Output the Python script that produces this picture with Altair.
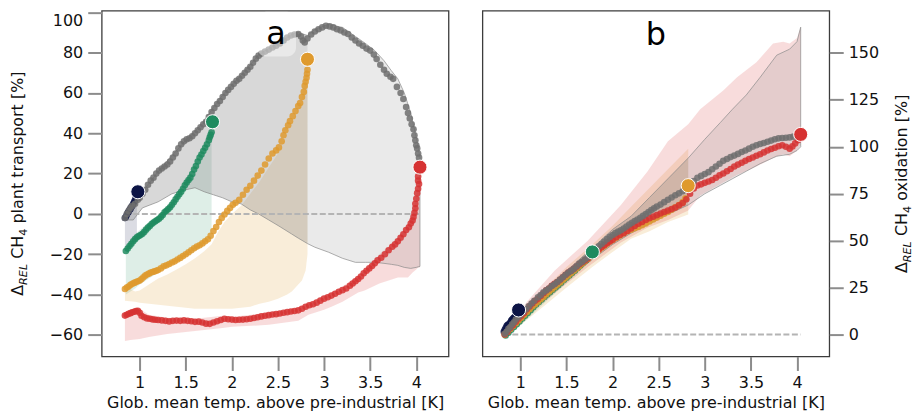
import altair as alt
import pandas as pd

FONT = "DejaVu Sans"
NAVY, GREEN, YELLOW, RED, GREY = "#0c1445", "#1f8b5f", "#df9a2e", "#d63232", "#6e6e6e"
BAND_GREY = "#7f7f7f"

# ---------------- panel a : plant transport ----------------
GRAY_A = [(0.84,-2),(0.86,0),(0.88,1.5),(0.90,3),(0.92,4),(0.95,5),(0.98,7),(1.00,8),(1.03,10),(1.06,12),
          (1.09,14.5),(1.12,16.5),(1.15,18),(1.18,20),(1.21,21.5),(1.24,22.5),(1.27,23.5),(1.30,24.5),(1.33,26),(1.36,28),
          (1.39,30),(1.42,32.5),(1.45,34.5),(1.48,36),(1.51,37),(1.54,37.5),(1.57,38.5),(1.60,40),(1.63,41.5),(1.66,43),
          (1.69,44.5),(1.72,45.7),(1.75,48),(1.78,50.5),(1.81,52.5),(1.84,54.5),(1.87,56),(1.90,58),(1.93,60),(1.96,61.5),
          (1.99,63),(2.02,64.5),(2.05,66),(2.08,67),(2.11,68.5),(2.14,70),(2.17,71.5),(2.20,73),(2.23,75),(2.26,77),
          (2.29,78.5),(2.32,79.5),(2.36,80.5),(2.40,81.5),(2.44,82.5),(2.48,83.4),(2.52,84.5),(2.56,86),(2.60,87.5),(2.64,88.5),
          (2.68,89),(2.72,89.2),(2.75,88),(2.77,86),(2.79,85),(2.82,87),(2.86,89),(2.90,90.5),(2.94,91.6),(2.98,92.5),
          (3.02,93.3),(3.06,93),(3.10,92.5),(3.14,91.6),(3.18,91),(3.22,90),(3.26,89.2),(3.30,87.5),(3.34,86),(3.38,84.5),
          (3.42,83.4),(3.46,82),(3.50,81),(3.54,79),(3.57,76.8),(3.61,74),(3.65,71.5),(3.68,69.5),(3.72,68),(3.75,67),
          (3.79,63),(3.83,60),(3.86,57),(3.89,53),(3.91,50),(3.93,47.3),(3.95,44.5),(3.97,42),(3.98,39),(3.99,36.5),
          (4.00,34),(4.01,32.5),(4.02,30),(4.03,27.9)]
NAVY_A = [(0.84,-2),(0.85,-1.5),(0.86,-0.5),(0.87,0.5),(0.88,1),(0.89,2),(0.90,2.5),(0.91,3.5),(0.92,4),
          (0.93,5),(0.94,6),(0.95,7),(0.96,8.5)]
GREEN_A = [(0.85,-18.4),(0.87,-17.2),(0.89,-15.9),(0.91,-14.8),(0.93,-13.6),(0.95,-12.5),(0.97,-11.6),(0.99,-11.0),
           (1.01,-10.5),(1.03,-9.8),(1.05,-8.9),(1.07,-7.8),(1.09,-6.8),(1.11,-6.0),(1.13,-5.0),(1.15,-4.3),(1.17,-3.6),
           (1.19,-3.0),(1.21,-2.4),(1.23,-1.5),(1.25,-0.5),(1.27,0.8),(1.29,1.6),(1.31,2.4),(1.33,3.3),(1.35,4.5),
           (1.37,5.8),(1.39,7.2),(1.41,8.5),(1.43,9.8),(1.45,11.0),(1.47,12.5),(1.49,14.2),(1.51,15.6),(1.53,16.8),
           (1.55,18.0),(1.57,19.8),(1.59,22.0),(1.61,23.8),(1.63,26.0),(1.65,28.0),(1.67,29.5),(1.69,31.2),(1.71,32.8),
           (1.73,34.5),(1.75,36.5),(1.76,38.0),(1.77,39.2),(1.78,40.5)]
YELLOW_A = [(0.84,-37.2),(0.86,-36.5),(0.88,-36.0),(0.90,-35.2),(0.92,-34.6),(0.94,-34.2),(0.96,-33.8),(0.98,-33.4),
            (1.00,-33.0),(1.02,-32.3),(1.04,-31.4),(1.06,-30.6),(1.08,-30.0),(1.10,-29.6),(1.12,-29.1),(1.14,-28.8),
            (1.16,-28.5),(1.18,-28.2),(1.20,-27.8),(1.23,-27.0),(1.26,-26.0),(1.29,-25.5),(1.32,-24.8),(1.35,-24.1),
            (1.38,-23.5),(1.41,-22.6),(1.44,-21.8),(1.47,-20.9),(1.50,-20.0),(1.53,-19.0),(1.56,-18.0),(1.59,-17.0),
            (1.62,-16.2),(1.65,-15.5),(1.68,-14.6),(1.71,-13.6),(1.74,-12.6),(1.77,-10.8),(1.80,-8.5),(1.83,-6.5),
            (1.86,-4.0),(1.89,-2.0),(1.92,-0.3),(1.95,1.5),(1.98,3.0),(2.01,4.5),(2.04,5.5),(2.08,7.0),(2.12,9.5),
            (2.16,12.0),(2.20,14.0),(2.24,16.5),(2.28,19.0),(2.32,21.5),(2.36,24.5),(2.40,27.5),(2.44,30.0),(2.48,31.5),
            (2.51,33.0),(2.54,36.0),(2.56,39.0),(2.58,41.5),(2.61,44.0),(2.63,46.0),(2.66,48.5),(2.69,51.0),(2.72,53.5),
            (2.74,55.0),(2.76,58.0),(2.78,60.5),(2.79,63.5),(2.80,65.5),(2.81,67.5),(2.815,69.5),(2.82,71.5)]
RED_A = [(0.84,-50.4),(0.86,-50.0),(0.88,-49.5),(0.90,-49.2),(0.92,-48.8),(0.94,-48.5),(0.96,-48.2),(0.98,-48.0),
         (1.00,-49.0),(1.02,-50.5),(1.05,-51.2),(1.08,-51.8),(1.11,-52.0),(1.14,-52.3),(1.17,-52.5),(1.20,-52.6),
         (1.24,-52.8),(1.28,-53.0),(1.32,-53.3),(1.36,-53.0),(1.40,-52.9),(1.44,-53.0),(1.48,-52.8),(1.52,-53.0),
         (1.56,-53.2),(1.60,-53.5),(1.64,-53.4),(1.68,-53.8),(1.72,-54.4),(1.76,-54.5),(1.80,-53.8),(1.84,-53.2),
         (1.88,-52.6),(1.92,-52.0),(1.96,-52.2),(2.00,-52.4),(2.04,-52.6),(2.08,-52.5),(2.12,-52.4),(2.16,-52.2),
         (2.20,-52.0),(2.24,-51.6),(2.28,-51.2),(2.32,-50.8),(2.36,-50.5),(2.40,-50.2),(2.44,-49.9),(2.48,-49.7),
         (2.52,-49.4),(2.56,-49.0),(2.60,-48.7),(2.64,-48.4),(2.68,-48.1),(2.72,-47.8),(2.76,-47.0),(2.80,-46.0),
         (2.84,-45.3),(2.88,-44.8),(2.92,-44.0),(2.96,-43.0),(3.00,-42.0),(3.04,-41.3),(3.08,-40.5),(3.12,-39.6),
         (3.16,-38.6),(3.20,-37.8),(3.24,-37.0),(3.28,-35.6),(3.31,-34.5),(3.34,-33.4),(3.37,-32.3),(3.40,-31.0),
         (3.43,-29.4),(3.46,-28.2),(3.49,-27.0),(3.52,-25.8),(3.55,-24.5),(3.58,-23.0),(3.62,-21.7),(3.66,-20.0),
         (3.70,-18.0),(3.74,-16.3),(3.77,-15.1),(3.80,-13.6),(3.83,-11.8),(3.86,-10.1),(3.89,-8.0),(3.92,-6.6),
         (3.94,-4.8),(3.96,-3.3),(3.97,-1.5),(3.98,0.5),(3.99,2.8),(3.99,5.0),(4.00,7.5),(4.01,10.3),(4.02,12.5),
         (4.03,14.8),(4.02,16.5),(4.02,18.6)]
END_NAVY_A, END_GREEN_A, END_YELLOW_A, END_RED_A = (0.98, 11.0), (1.79, 45.7), (2.82, 76.7), (4.04, 23.2)

# bands: (x, lower, upper)
GRAY_BAND_A = [(0.84,-3,-1),(0.93,-3,5),(1.03,3,11),(1.2,6,21),(1.35,10,29),(1.5,12,36.5),(1.6,13,41),(1.7,11,46),
               (1.8,9.5,53),(1.9,8,59),(2.0,6,64),(2.1,5,69),(2.2,2,74),(2.29,0,79),(2.4,-3,82),(2.51,-6,85),
               (2.65,-10,89),(2.72,-12,90),(2.82,-14.7,88.5),(2.9,-16.5,91.5),(3.05,-19,94),(3.2,-22,92.5),
               (3.34,-24,88),(3.45,-24,84.5),(3.55,-24,81),(3.65,-24.5,76),(3.73,-25,71),(3.8,-25.5,67),
               (3.87,-26.5,60),(3.94,-27,50),(4.0,-26.5,38),(4.04,-26,28)]
NAVY_BAND_A = [(0.84,-18,-1),(0.9,-14,4),(0.97,-10,10)]
GREEN_BAND_A = [(0.85,-40,-16),(0.95,-37,-10),(1.0,-35,-8),(1.1,-32,-4),(1.2,-29,-1),(1.28,-27,3),(1.4,-24,9),
                (1.5,-21.5,17),(1.6,-18.5,24),(1.65,-17,30),(1.7,-15,34),(1.75,-13,38.5),(1.78,-12,42)]
TAN_BAND_A = [(0.84,-43,-36),(0.95,-43.5,-38.5),(1.0,-44,-38),(1.1,-44.5,-35),(1.2,-45,-32),(1.3,-45.5,-30),
              (1.4,-46,-27.5),(1.5,-46.5,-25),(1.6,-47,-22),(1.7,-47,-18.5),(1.78,-47,-15),(1.85,-47,-9),
              (1.92,-47,-4),(2.0,-47,0),(2.1,-46.5,4),(2.2,-46,10),(2.3,-44.5,16),(2.4,-43.5,23),(2.5,-42,30),
              (2.6,-40,40),(2.65,-38.5,45),(2.7,-36,50),(2.76,-33,58),(2.8,-28,68),(2.82,-20,76.7)]
RED_BAND_A = [(0.84,-63,-49),(0.9,-62.5,-47.5),(1.0,-62,-47),(1.1,-61,-50),(1.3,-59.5,-51.5),(1.6,-58,-52),
              (1.9,-56.5,-50.5),(2.0,-56,-51),(2.4,-55,-49),(2.72,-53,-46.5),(2.83,-50,-44),(3.0,-47.5,-40.5),
              (3.08,-46,-39),(3.2,-43.5,-36),(3.37,-39,-30.5),(3.44,-38,-28),(3.6,-34.5,-20),(3.8,-31.5,-12),
              (3.91,-31.5,-5),(3.96,-29,0),(4.0,-27.5,8),(4.02,-26.6,16),(4.04,-26.5,23)]

# ---------------- panel b : oxidation ----------------
GRAY_B = [(0.83,0.4),(0.85,1.5),(0.87,3.0),(0.89,4.0),(0.91,5.5),(0.93,6.5),(0.95,8.0),(0.975,9.2),(1.00,10.5),
          (1.03,12.0),(1.06,13.5),(1.09,15.0),(1.12,16.5),(1.15,18.0),(1.19,19.8),(1.22,21.0),(1.25,22.5),(1.28,23.5),
          (1.31,24.5),(1.34,25.8),(1.37,26.8),(1.40,28.0),(1.43,29.3),(1.46,30.5),(1.49,31.8),(1.52,33.0),(1.55,33.9),
          (1.58,35.0),(1.61,36.4),(1.64,37.8),(1.67,38.8),(1.70,40.0),(1.73,41.0),(1.76,42.5),(1.79,44.0),(1.82,45.5),
          (1.85,47.0),(1.88,48.2),(1.91,49.5),(1.94,50.8),(1.97,52.0),(2.00,53.0),(2.03,54.0),(2.06,54.8),(2.09,55.5),
          (2.12,56.5),(2.15,57.5),(2.18,58.6),(2.21,59.5),(2.24,60.5),(2.27,61.3),(2.30,62.2),(2.33,63.2),(2.36,64.2),
          (2.39,65.3),(2.42,66.3),(2.45,67.2),(2.48,68.2),(2.52,69.2),(2.56,70.5),(2.60,71.8),(2.64,73.0),(2.68,74.2),
          (2.72,75.2),(2.76,76.3),(2.80,77.8),(2.84,79.5),(2.88,81.8),(2.92,83.5),(2.96,84.5),(3.00,85.5),(3.04,86.5),
          (3.08,88.0),(3.12,89.5),(3.16,91.0),(3.20,92.5),(3.24,93.5),(3.28,94.5),(3.32,95.3),(3.36,96.2),(3.40,97.2),
          (3.44,98.0),(3.48,99.0),(3.52,100.0),(3.56,100.8),(3.60,101.5),(3.64,102.0),(3.68,102.7),(3.72,103.3),
          (3.76,104.0),(3.80,104.5),(3.84,104.7),(3.88,104.8),(3.92,105.0),(3.96,105.4),(4.00,105.8)]
NAVY_B = [(0.82,1.5),(0.83,2.5),(0.84,3.5),(0.85,4.5),(0.86,5.0),(0.87,5.5),(0.88,5.5),(0.89,6.5),(0.90,7.5),
          (0.91,8.0),(0.92,8.5),(0.93,9.0),(0.94,9.5),(0.95,10.0),(0.96,10.5)]
GREEN_B = [(0.84,-0.5),(0.87,1.0),(0.90,2.5),(0.93,4.0),(0.96,5.5),(0.99,7.0),(1.02,8.5),(1.05,10.0),(1.08,11.5),
           (1.11,13.0),(1.14,14.5),(1.17,16.0),(1.20,17.3),(1.23,18.7),(1.26,20.0),(1.29,21.3),(1.32,22.5),(1.35,23.8),
           (1.38,25.0),(1.41,26.3),(1.44,27.6),(1.47,29.0),(1.50,30.2),(1.53,31.5),(1.56,32.8),(1.59,34.0),(1.62,35.5),
           (1.65,36.8),(1.68,38.2),(1.71,39.5),(1.74,41.0),(1.77,42.5)]
YELLOW_B = [(0.83,0.0),(0.86,1.5),(0.89,3.0),(0.92,4.5),(0.95,6.0),(0.98,7.5),(1.01,9.0),(1.04,10.5),(1.07,12.0),
            (1.10,13.5),(1.13,15.0),(1.16,16.2),(1.19,17.5),(1.22,18.8),(1.25,20.0),(1.28,21.5),(1.31,22.8),(1.34,24.0),
            (1.37,25.2),(1.40,26.5),(1.43,27.7),(1.46,29.0),(1.49,30.2),(1.52,31.5),(1.55,32.8),(1.58,34.0),(1.61,35.2),
            (1.64,36.5),(1.67,37.8),(1.70,39.0),(1.73,40.2),(1.76,41.5),(1.79,42.8),(1.82,44.0),(1.85,45.0),(1.88,46.2),
            (1.91,47.2),(1.94,48.3),(1.97,49.5),(2.00,50.3),(2.04,51.5),(2.08,52.7),(2.12,54.0),(2.16,55.0),(2.20,55.8),
            (2.24,56.6),(2.28,57.3),(2.32,58.2),(2.36,59.2),(2.40,60.2),(2.44,61.3),(2.48,62.3),(2.52,63.3),(2.56,64.3),
            (2.60,65.3),(2.64,66.5),(2.68,67.8),(2.72,69.0),(2.76,70.5),(2.79,72.5)]
RED_B = [(0.83,0.0),(0.86,1.5),(0.89,3.5),(0.92,5.0),(0.95,6.8),(0.98,8.5),(1.01,10.0),(1.04,11.5),(1.07,13.5),
         (1.10,15.0),(1.13,16.5),(1.16,18.0),(1.19,19.0),(1.22,20.5),(1.25,22.0),(1.28,23.5),(1.31,24.5),(1.34,26.0),
         (1.37,27.0),(1.40,28.0),(1.43,29.2),(1.46,30.5),(1.49,31.8),(1.52,33.0),(1.55,34.0),(1.58,35.0),(1.61,36.2),
         (1.64,37.5),(1.67,38.5),(1.70,39.5),(1.73,40.5),(1.76,41.8),(1.79,43.0),(1.82,44.2),(1.85,45.3),(1.88,46.5),
         (1.91,47.6),(1.94,48.6),(1.97,49.6),(2.00,50.5),(2.04,51.8),(2.08,53.0),(2.12,54.0),(2.16,55.2),(2.20,56.5),
         (2.24,57.8),(2.28,59.0),(2.32,60.0),(2.36,61.0),(2.40,62.0),(2.44,62.8),(2.48,63.6),(2.52,64.5),(2.56,65.3),
         (2.60,66.0),(2.64,66.8),(2.68,67.6),(2.72,68.8),(2.76,70.0),(2.80,72.0),(2.84,75.0),(2.88,77.8),(2.92,79.4),
         (2.96,80.0),(3.00,80.8),(3.04,81.5),(3.08,82.3),(3.12,83.5),(3.16,84.8),(3.20,85.8),(3.24,87.0),(3.28,88.2),
         (3.32,89.5),(3.36,90.5),(3.40,91.5),(3.44,92.5),(3.48,93.5),(3.52,94.3),(3.56,95.2),(3.60,96.0),(3.64,97.0),
         (3.68,98.0),(3.72,98.8),(3.76,99.5),(3.80,100.3),(3.84,100.8),(3.88,100.0),(3.92,99.0),(3.95,100.2),
         (3.98,101.8),(4.01,103.5)]
END_NAVY_B, END_GREEN_B, END_YELLOW_B, END_RED_B = (0.98, 13.1), (1.78, 44.0), (2.82, 79.3), (4.04, 106.6)

GRAY_BAND_B = [(0.83,-1,0.5),(1.0,7,11),(1.25,18,23),(1.5,29,34),(1.78,40,46),(2.0,48,56),(2.2,54,63),(2.4,59,73),
               (2.6,64,83),(2.82,69,94),(3.0,75,104),(3.17,79.5,113),(3.3,83,120),(3.45,87,127.6),(3.6,91,137),
               (3.78,95,148.8),(3.92,96,152),(4.0,98,156),(4.04,100,163.7)]
NAVY_BAND_B = [(0.82,-1,3),(0.9,4,9),(0.98,9,14)]
GREEN_BAND_B = [(0.84,-2,1),(1.0,5,10),(1.2,14,20),(1.4,23,29),(1.6,32,38),(1.78,40,47)]
TAN_BAND_B = [(0.83,-2,1),(1.0,5,12),(1.25,15,24),(1.5,25,36),(1.78,36,48),(2.0,44,58),(2.2,51,68),(2.4,55,78),
              (2.6,60,88),(2.82,64,99)]
RED_BAND_B = [(0.83,-2,2),(1.08,10,18),(1.37,22,34),(1.73,36,50),(2.09,49,69),(2.38,57,87),(2.6,61,103),
              (2.82,66,112),(2.95,74,120),(3.2,81,130),(3.35,85,137),(3.56,89.5,145),(3.74,94,155),(3.85,96,156),
              (3.92,95,155),(4.0,98,158),(4.04,101,163.7)]

# ---------------- axes / text ----------------
X_TICKS = [1, 1.5, 2, 2.5, 3, 3.5, 4]
YA_TICKS = [-60, -40, -20, 0, 20, 40, 60, 80, 100]
YB_TICKS = [0, 25, 50, 75, 100, 125, 150]
X_DOMAIN = [0.588, 4.35]
YA_DOMAIN = [-70.7, 100.8]
YB_DOMAIN = [-11.7, 172.5]
X_TITLE = "Glob. mean temp. above pre-industrial [K]"
TITLE_A = ["Δ", "REL", "CH", "4", "plant transport [%]"]
TITLE_B = ["Δ", "REL", "CH", "4", "oxidation [%]"]
SPLIT_X = 2.82  # end of the yellow series, where the darker grey shading stops

W, H = 348, 347
TXT = "#111111"

axis_common = dict(grid=False, domain=False, tickSize=14, tickWidth=2, tickColor="#8c8c8c",
                   labelFont=FONT, labelFontSize=16, labelColor=TXT, labelPadding=5,
                   titleFont=FONT, titleFontSize=16, titleFontWeight="normal", titleColor=TXT)
x_common = dict(axis_common, labelPadding=4)
X_AXIS = alt.Axis(values=X_TICKS, format=".1~f", title=X_TITLE, titlePadding=4, labelFlush=False, **x_common)


def make_panel(ydomain, yaxis, bands, grey_band, series, ends, title_parts, title_x, label, label_xy):
    def X(f):
        return alt.X(f, type="quantitative", scale=alt.Scale(domain=X_DOMAIN, nice=False, zero=False), axis=X_AXIS)

    def Y(f):
        return alt.Y(f, type="quantitative", scale=alt.Scale(domain=ydomain, nice=False, zero=False), axis=yaxis)

    layers = []
    for rows, color, op in bands:
        df = pd.DataFrame(rows, columns=["x", "lo", "hi"])
        layers.append(alt.Chart(df).mark_area(fill=color, fillOpacity=op, strokeOpacity=0)
                      .encode(x=X("x"), y=Y("lo"), y2="hi"))
    gdf = pd.DataFrame(grey_band, columns=["x", "lo", "hi"])
    layers.append(alt.Chart(gdf).mark_area(fill=BAND_GREY, fillOpacity=0.16, stroke="#8a8a8a", strokeWidth=0.7)
                  .encode(x=X("x"), y=Y("lo"), y2="hi"))
    layers.append(alt.Chart(gdf[gdf["x"] <= SPLIT_X]).mark_area(fill=BAND_GREY, fillOpacity=0.16, strokeOpacity=0)
                  .encode(x=X("x"), y=Y("lo"), y2="hi"))
    # zero line across the range of the data
    allx = [p[0] for rows, _ in series for p in rows] + [e[0][0] for e in ends]
    zdf = pd.DataFrame({"x0": [min(allx)], "x1": [max(allx)], "y0": [0]})
    layers.append(alt.Chart(zdf).mark_rule(color="#b4b4b4", strokeWidth=2, strokeDash=[6, 2.5])
                  .encode(x=X("x0"), x2="x1", y=Y("y0")))
    for rows, color in series:
        df = pd.DataFrame(rows, columns=["x", "y"])
        layers.append(alt.Chart(df).mark_circle(size=44, opacity=0.85, color=color)
                      .encode(x=X("x"), y=Y("y")))
    for pt, color in ends:
        df = pd.DataFrame([pt], columns=["x", "y"])
        layers.append(alt.Chart(df).mark_circle(size=200, opacity=1, color=color, stroke="white", strokeWidth=1)
                      .encode(x=X("x"), y=Y("y")))
    one = pd.DataFrame({"t": [label]})
    lx, ly = label_xy
    if label == "a":
        layers.append(alt.Chart(one).mark_rect(fill="white", opacity=0.45, cornerRadius=9)
                      .encode(x=alt.value(lx - 19), x2=alt.value(lx + 20), y=alt.value(1), y2=alt.value(ly + 13)))
    layers.append(alt.Chart(one).mark_text(font=FONT, fontSize=32, color="black", align="center",
                                           baseline="alphabetic")
                  .encode(x=alt.value(lx), y=alt.value(ly), text="t"))
    # rotated y title with subscripts
    big, small = 16, 11.2
    widths = [0.684 * big, 1.884 * small + 0.318 * big, 1.45 * big, 0.636 * small + 0.318 * big]
    last_w = {"plant transport [%]": 9.539 * big, "oxidation [%]": 6.694 * big}[title_parts[4]]
    pos = H / 2 + (sum(widths) + last_w) / 2
    for i, part in enumerate(title_parts):
        is_sub = i in (1, 3)
        df = pd.DataFrame({"t": [part]})
        layers.append(alt.Chart(df).mark_text(font=FONT, fontSize=small if is_sub else big, color=TXT,
                                              fontStyle="italic" if i == 1 else "normal",
                                              angle=270, align="left", baseline="alphabetic")
                      .encode(x=alt.value(title_x + (3.5 if is_sub else 0)), y=alt.value(pos), text="t"))
        if i < 4:
            pos -= widths[i]
    return alt.layer(*layers).properties(width=W, height=H)


axis_a = alt.Axis(values=YA_TICKS, title=None, orient="left", labelFlush=4, **axis_common)
axis_b = alt.Axis(values=YB_TICKS, title=None, orient="right", labelFlush=4, **axis_common)

panel_a = make_panel(
    YA_DOMAIN, axis_a,
    [(NAVY_BAND_A, NAVY, 0.15), (GREEN_BAND_A, GREEN, 0.15), (TAN_BAND_A, YELLOW, 0.18), (RED_BAND_A, RED, 0.17)],
    GRAY_BAND_A,
    [(NAVY_A, NAVY), (GREEN_A, GREEN), (YELLOW_A, YELLOW), (RED_A, RED), (GRAY_A, GREY)],
    [(END_NAVY_A, NAVY), (END_GREEN_A, GREEN), (END_YELLOW_A, YELLOW), (END_RED_A, RED)],
    TITLE_A, -78.5, "a", (175, 33))

panel_b = make_panel(
    YB_DOMAIN, axis_b,
    [(NAVY_BAND_B, NAVY, 0.15), (GREEN_BAND_B, GREEN, 0.15), (TAN_BAND_B, YELLOW, 0.18), (RED_BAND_B, RED, 0.17)],
    GRAY_BAND_B,
    [(NAVY_B, NAVY), (GREEN_B, GREEN), (YELLOW_B, YELLOW), (RED_B, RED), (GRAY_B, GREY)],
    [(END_NAVY_B, NAVY), (END_GREEN_B, GREEN), (END_YELLOW_B, YELLOW), (END_RED_B, RED)],
    TITLE_B, 426, "b", (174, 34.5))

chart = (alt.hconcat(panel_a, panel_b, spacing=34, bounds="flush")
         .properties(padding={"left": 1, "top": 1, "right": 0, "bottom": 0}, background="white")
         .configure_view(stroke="#3c3c3c", strokeWidth=1.3))

chart.save("out.html", embed_options={"renderer": "svg", "actions": False})
